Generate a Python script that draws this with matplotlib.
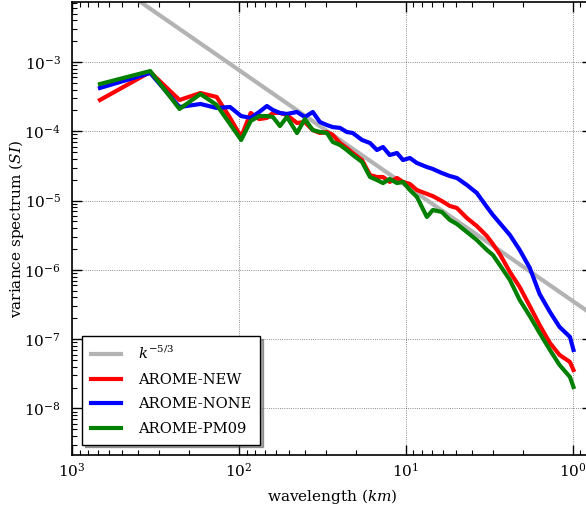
import matplotlib
matplotlib.use("Agg")
import matplotlib.pyplot as plt
import numpy as np

plt.rcParams["font.family"] = "serif"
plt.rcParams["font.serif"] = ["DejaVu Serif"]
plt.rcParams["mathtext.fontset"] = "dejavuserif"

# wavelength (km) shared by the three runs
wavelength = [680, 340, 227, 170, 136, 113, 97, 85, 75.6, 68,
              62.6, 56.8, 51.6, 44.9, 40.3, 36.1, 32.7, 29.7, 27.4, 24.8,
              22.6, 20.8, 18.3, 16.4, 14.9, 13.7, 12.5, 11.3, 10.4, 9.46,
              8.59, 7.48, 6.89, 6.09, 5.45, 4.95, 4.31, 3.76, 3.27, 3.01,
              2.74, 2.38, 2.08, 1.81, 1.58, 1.37, 1.20, 1.04, 0.99]

spec_new = [2.83e-4, 7.17e-4, 2.83e-4, 3.57e-4, 3.13e-4, 1.56e-4, 8.28e-5, 1.84e-4, 1.50e-4, 1.56e-4,
            1.84e-4, 1.84e-4, 1.72e-4, 1.32e-4, 1.36e-4, 1.04e-4, 9.45e-5, 9.77e-5, 8.85e-5, 6.78e-5,
            5.74e-5, 4.86e-5, 3.85e-5, 2.34e-5, 2.19e-5, 2.19e-5, 1.86e-5, 2.12e-5, 1.86e-5, 1.74e-5,
            1.42e-5, 1.25e-5, 1.16e-5, 9.87e-6, 8.36e-6, 7.82e-6, 5.61e-6, 4.30e-6, 3.08e-6, 2.36e-6,
            1.70e-6, 9.33e-7, 5.66e-7, 3.01e-7, 1.60e-7, 8.81e-8, 5.92e-8, 4.69e-8, 3.59e-8]

spec_none = [4.22e-4, 6.94e-4, 2.24e-4, 2.48e-4, 2.17e-4, 2.24e-4, 1.66e-4, 1.56e-4, 1.90e-4, 2.32e-4,
             2.03e-4, 1.84e-4, 1.78e-4, 1.90e-4, 1.61e-4, 1.90e-4, 1.36e-4, 1.23e-4, 1.15e-4, 1.12e-4,
             9.77e-5, 9.45e-5, 7.49e-5, 6.78e-5, 5.37e-5, 5.93e-5, 4.55e-5, 4.86e-5, 3.85e-5, 4.12e-5,
             3.49e-5, 3.05e-5, 2.86e-5, 2.50e-5, 2.26e-5, 2.12e-5, 1.68e-5, 1.29e-5, 8.09e-6, 6.20e-6,
             4.75e-6, 3.19e-6, 1.94e-6, 1.07e-6, 4.49e-7, 2.47e-7, 1.50e-7, 1.08e-7, 6.98e-8]

spec_pm09 = [4.81e-4, 7.41e-4, 2.10e-4, 3.45e-4, 2.40e-4, 1.27e-4, 7.49e-5, 1.41e-4, 1.66e-4, 1.66e-4,
             1.61e-4, 1.19e-4, 1.61e-4, 9.45e-5, 1.50e-4, 1.04e-4, 9.77e-5, 9.45e-5, 7.01e-5, 6.34e-5,
             5.37e-5, 4.55e-5, 3.61e-5, 2.19e-5, 1.98e-5, 1.79e-5, 2.05e-5, 1.79e-5, 1.86e-5, 1.42e-5,
             1.13e-5, 5.80e-6, 7.32e-6, 6.85e-6, 5.25e-6, 4.60e-6, 3.52e-6, 2.70e-6, 1.94e-6, 1.64e-6,
             1.18e-6, 7.15e-7, 3.68e-7, 2.16e-7, 1.23e-7, 6.98e-8, 4.24e-8, 2.85e-8, 2.04e-8]

# k^-5/3 reference line
ref_wl = np.array([2000.0, 0.5])
ref_coef = 3.55e-7
ref_spec = ref_coef * ref_wl ** (5.0 / 3.0)

fig = plt.figure(figsize=(5.86, 5.09), dpi=100)
ax = fig.add_axes([0.1229, 0.1061, 0.887, 0.890])

ax.plot(ref_wl, ref_spec, color="#b3b3b3", lw=3, label=r"$k^{-5/3}$")
ax.plot(wavelength, spec_new, color="red", lw=3, label="AROME-NEW")
ax.plot(wavelength, spec_none, color="blue", lw=3, label="AROME-NONE")
ax.plot(wavelength, spec_pm09, color="green", lw=3, label="AROME-PM09")

ax.set_xscale("log")
ax.set_yscale("log")
ax.set_xlim(1000, 0.769)
ax.set_ylim(2.13e-9, 7.35e-3)

ax.grid(True, which="major", color="black", ls=":", lw=0.6, alpha=0.6)
ax.tick_params(which="both", direction="in", top=True, right=True, labelsize=11)
ax.tick_params(which="major", length=7, width=1)
ax.tick_params(which="minor", length=3.5, width=0.8)
ax.tick_params(axis="x", pad=5)
ax.tick_params(axis="y", pad=8)
for s in ax.spines.values():
    s.set_linewidth(1.2)

ax.set_xlabel(r"wavelength ($km$)", fontsize=11, labelpad=5)
ax.set_ylabel(r"variance spectrum ($SI$)", fontsize=11)
ax.yaxis.set_label_coords(-0.088, 0.5)

leg = ax.legend(loc="lower left", fontsize=10.6, fancybox=False, shadow=True,
                handlelength=2.0, handletextpad=1.2, labelspacing=0.72,
                borderpad=0.6, borderaxespad=0.7)
leg.get_frame().set_edgecolor("black")
leg.get_frame().set_linewidth(1.0)

fig.savefig("out.png", dpi=100)
